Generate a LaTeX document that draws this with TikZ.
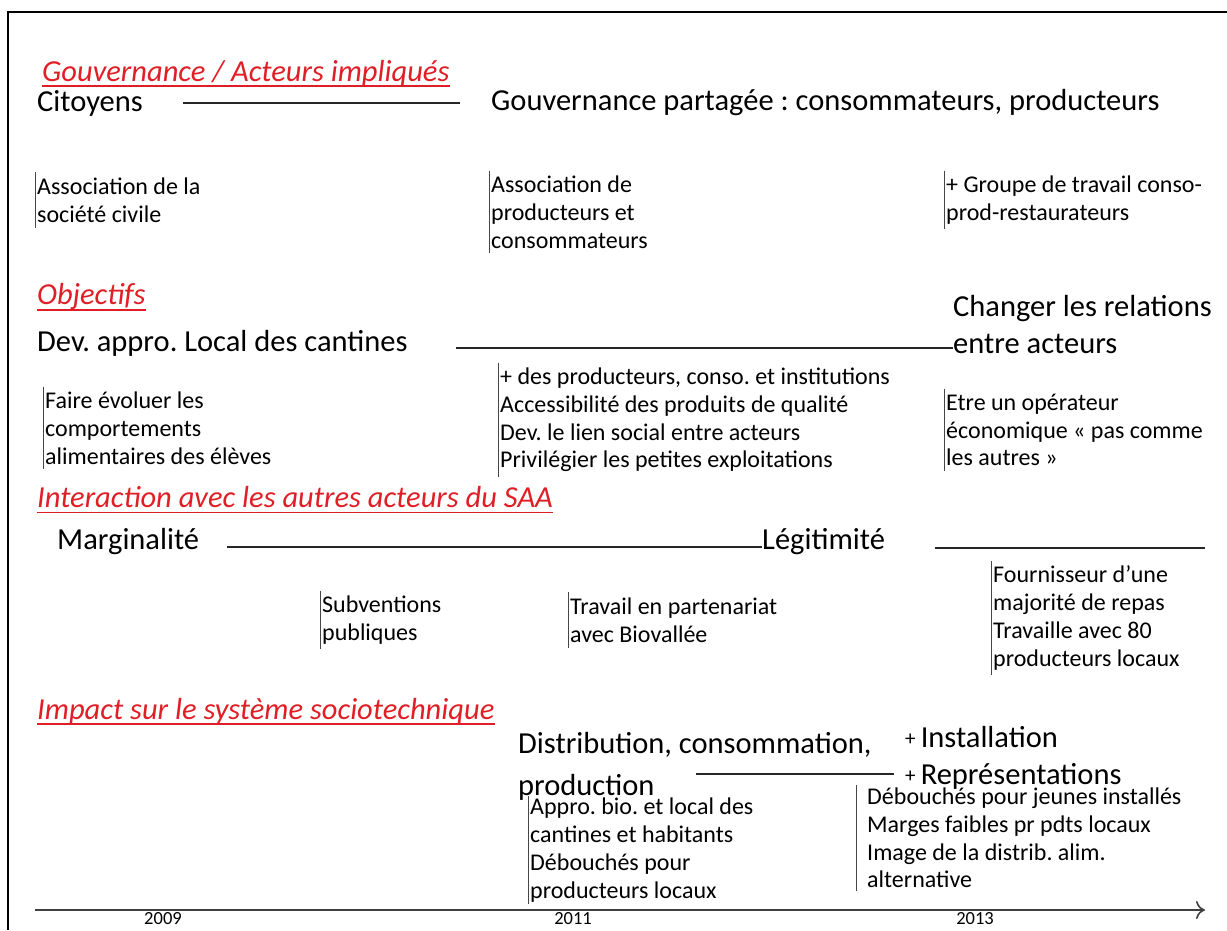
\documentclass[tikz,border=0pt]{standalone}
\usepackage{fontspec}
\setmainfont{Carlito}
\usepackage{tikz}
\usetikzlibrary{arrows.meta,positioning}
\frenchspacing
\definecolor{titlered}{RGB}{224,30,38}
\definecolor{bargray}{RGB}{70,70,70}
\newcommand{\smallplus}{\raisebox{2pt}{\fontsize{21}{21}\selectfont+}\,}
\tikzset{
  bigtext/.style={anchor=west, inner sep=0pt, align=left, font=\fontsize{30.5}{37}\selectfont},
  smalltext/.style={anchor=west, align=left, inner xsep=2pt, inner ysep=5pt, font=\fontsize{24}{27.8}\selectfont},
  sectitle/.style={anchor=west, inner sep=0pt, text=titlered, font=\fontsize{30.5}{34}\selectfont\itshape},
  link/.style={line width=1.3pt, black!85},
  notebar/.style={line width=1pt, bargray},
  year/.style={inner sep=0pt, font=\fontsize{18.5}{20}\selectfont},
}

\begin{document}
\begin{tikzpicture}[x=1pt,y=-1pt]
    \useasboundingbox (0,0) rectangle (1227,930);

    % Frame (left and top only)
    \coordinate (fbl) at (8,930);
    \coordinate (ftl) at (8,12);
    \coordinate (ftr) at (1227,12);
    \draw[line width=2pt] (fbl) -- (ftl) -- (ftr);

    % Section titles
    \node[sectitle] (govt) at (42,73) {Gouvernance / Acteurs impliqués};
    \node[sectitle] (objt) at (37,297) {Objectifs};
    \node[sectitle] (intert) at (37,497) {Interaction avec les autres acteurs du SAA};
    \node[sectitle] (impt) at (37,711) {Impact sur le système sociotechnique};
    \foreach \n in {govt,objt,intert,impt}
      \draw[titlered, line width=1.8pt] ([yshift=-5pt]\n.base west) -- ([yshift=-5pt]\n.base east);

    % Gouvernance
    \node[bigtext] (cit) at (37,103) {Citoyens};
    \node[bigtext] (gouv) at (491,103) {Gouvernance partagée : consommateurs, producteurs};
    \draw[link, shorten <=40pt, shorten >=31pt] (cit.east) -- (gouv.west);
    \node[smalltext] (assoc) at (35,200) {Association de la\\société civile};
    \node[smalltext] (assocpc) at (489,212) {Association de\\producteurs et\\consommateurs};
    \node[smalltext] (groupe) at (944,200) {+ Groupe de travail conso-\\prod-restaurateurs};

    % Objectifs
    \node[bigtext] (dev) at (37,343) {Dev. appro. Local des cantines};
    \node[bigtext] (chg) at (953,325) {Changer les relations\\entre acteurs};
    \draw[link, shorten <=48pt] ([yshift=-5pt]dev.east) -- ([yshift=-5pt]dev.east -| chg.west);
    \node[smalltext] (faire) at (43,428) {Faire évoluer les\\comportements\\alimentaires des élèves};
    \node[smalltext] (plus) at (498,420) {+ des producteurs, conso. et institutions\\Accessibilité des produits de qualité\\Dev. le lien social entre acteurs\\Privilégier les petites exploitations};
    \node[smalltext] (etre) at (944,430) {Etre un opérateur\\économique « pas comme\\les autres »};

    % Interaction
    \node[bigtext] (marg) at (57,542) {Marginalité};
    \node[bigtext] (legit) at (762,542) {Légitimité};
    \coordinate (legitend) at (1205,548);
    \draw[link, shorten <=28pt] ([yshift=-5pt]marg.east) -- ([yshift=-5pt]legit.west);
    \draw[link, shorten <=50pt] (legit.east |- legitend) -- (legitend);
    \node[smalltext] (subv) at (320,620) {Subventions\\publiques};
    \node[smalltext] (trav) at (568,620) {Travail en partenariat\\avec Biovallée};
    \node[smalltext] (fourn) at (991,618) {Fournisseur d’une\\majorité de repas\\Travaille avec 80\\producteurs locaux};

    % Impact
    \node[bigtext, font=\fontsize{30.5}{42}\selectfont] (distr) at (518,766) {Distribution, consommation,\\production};
    \node[bigtext] (inst) at (905,758) {\smallplus Installation\\\smallplus Représentations};
    \coordinate (distrline) at (696,774);
    \draw[link, shorten >=11pt] (distrline) -- (distrline -| inst.west);
    \node[smalltext, inner ysep=2pt] (appro) at (528,850) {Appro. bio. et local des\\cantines et habitants\\Débouchés pour\\producteurs locaux};
    \node[smalltext, inner xsep=11pt, inner ysep=3pt] (debou) at (856,838) {Débouchés pour jeunes installés\\Marges faibles pr pdts locaux\\Image de la distrib. alim.\\alternative};

    % Bars in front of the notes
    \foreach \n in {assoc,assocpc,groupe,faire,plus,etre,subv,trav,fourn,appro,debou}
      \draw[notebar] (\n.north west) -- (\n.south west);

    % Time axis
    \coordinate (tstart) at (35,910);
    \coordinate (tend) at (1205,910);
    \draw[line width=1.6pt, black!75, -{To[length=9pt,width=18pt]}] (tstart) -- (tend);
    \node[year] (y09) at (163,919) {2009};
    \node[year] (y11) at (573,919) {2011};
    \node[year] (y13) at (975,919) {2013};
  \end{tikzpicture}
\end{document}
